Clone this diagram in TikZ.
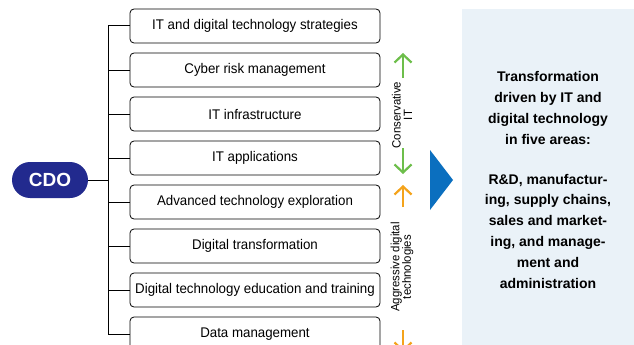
\documentclass[tikz,border=0pt]{standalone}
\usepackage{fontspec}
\setmainfont{Liberation Sans}[FakeStretch=0.95]
\newfontfamily\widefont{Liberation Sans}
\usetikzlibrary{arrows.meta}
\definecolor{cdoblue}{HTML}{222A8E}
\definecolor{panel}{HTML}{EAF2F8}
\definecolor{triblue}{HTML}{0B6FBF}
\definecolor{agreen}{HTML}{6DBE4B}
\definecolor{aorange}{HTML}{F4A31B}
\begin{document}
\begin{tikzpicture}[x=1pt,y=-1pt,
  itembox/.style={draw=black,line width=0.8pt,rounded corners=4pt,minimum width=250pt,minimum height=34pt,inner sep=0pt,font=\fontsize{14}{16}\selectfont,fill=white},
  conn/.style={line width=1pt,draw=black},
  chev/.style={line width=2.2pt,-{Straight Barb[length=8pt,width=17pt,line width=2.2pt]}},
  sidelabel/.style={rotate=90,align=center,font=\fontsize{12}{11.5}\selectfont},
  paneltext/.style={align=center,font=\widefont\bfseries\fontsize{14}{20.8}\selectfont}]
\path[use as bounding box] (0,0) rectangle (634,345);
\fill[panel] (462,9) rectangle (634,345);
\node[paneltext] (head) at (548,108) {Transformation\\driven by IT and\\digital technology\\in five areas:};
\node[paneltext] (areas) at (548,231) {R\&D, manufactur-\\ing, supply chains,\\sales and market-\\ing, and manage-\\ment and\\administration};
\fill[triblue] (430,150) -- (453,180) -- (430,210) -- cycle;
\node[fill=cdoblue,rounded corners=18pt,minimum width=76pt,minimum height=36pt,inner sep=0pt,text=white,font=\widefont\bfseries\fontsize{19}{20}\selectfont] (cdo) at (50,180) {CDO};
\coordinate (top) at (108,26);
\coordinate (bot) at (108,334);
\draw[conn] (top) -- (bot);
\draw[conn] (cdo.east) -- (108,180);
\foreach \i/\t in {1/IT and digital technology strategies,2/Cyber risk management,3/IT infrastructure,4/IT applications,5/Advanced technology exploration,6/Digital transformation,7/Digital technology education and training,8/Data management}{
  \node[itembox] (b\i) at (255,{26+44*(\i-1)}) {\t};
  \draw[conn] (108,{26+44*(\i-1)}) -- (b\i.west);
}
\coordinate (g1s) at (403,78); \coordinate (g1e) at (403,53);
\coordinate (g2s) at (403,148); \coordinate (g2e) at (403,174);
\coordinate (o1s) at (403,207); \coordinate (o1e) at (403,185);
\coordinate (o2s) at (403,330); \coordinate (o2e) at (403,352);
\draw[chev,agreen] (g1s) -- (g1e);
\draw[chev,agreen] (g2s) -- (g2e);
\draw[chev,aorange] (o1s) -- (o1e);
\draw[chev,aorange] (o2s) -- (o2e);
\node[sidelabel] (cons) at (402,115) {Conservative\\IT};
\node[sidelabel] (aggr) at (402,267) {Aggressive digital\\technologies};
\end{tikzpicture}
\end{document}
